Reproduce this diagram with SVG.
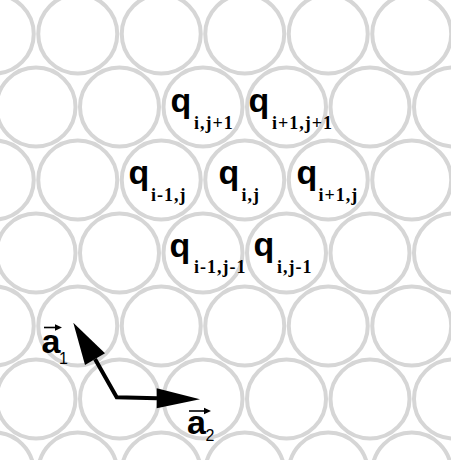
<svg xmlns="http://www.w3.org/2000/svg" width="451" height="460" viewBox="0 0 451 460">
<defs>
<style>
.c{fill:none;stroke:#d6d6d6;stroke-width:4}
.q{font-family:"Liberation Sans",Arial,sans-serif;font-weight:bold;font-size:34px;fill:#000}
.s{font-family:"Liberation Serif","Times New Roman",serif;font-weight:bold;font-size:18px;letter-spacing:1px;fill:#000}
.a{font-family:"Liberation Sans",Arial,sans-serif;font-weight:bold;font-size:34px;fill:#000}
.n{font-family:"Liberation Sans",Arial,sans-serif;font-size:16px;fill:#000}
.ln{stroke:#000;stroke-width:4;fill:none}
.sm{stroke:#000;stroke-width:1.6;fill:none}
</style>
<circle id="cc" class="c" r="39.5"/>
</defs>
<rect width="451" height="460" fill="#fff"/>
<g id="lattice">
<g id="row0"><use href="#cc" x="-5.75" y="34"/><use href="#cc" x="77.75" y="34"/><use href="#cc" x="161.25" y="34"/><use href="#cc" x="244.75" y="34"/><use href="#cc" x="328.25" y="34"/><use href="#cc" x="411.75" y="34"/></g>
<g id="row1"><use href="#cc" x="36" y="107"/><use href="#cc" x="119.5" y="107"/><use href="#cc" x="203" y="107"/><use href="#cc" x="286.5" y="107"/><use href="#cc" x="370" y="107"/><use href="#cc" x="453.5" y="107"/></g>
<g id="row2"><use href="#cc" x="-5.75" y="180"/><use href="#cc" x="77.75" y="180"/><use href="#cc" x="161.25" y="180"/><use href="#cc" x="244.75" y="180"/><use href="#cc" x="328.25" y="180"/><use href="#cc" x="411.75" y="180"/></g>
<g id="row3"><use href="#cc" x="36" y="253"/><use href="#cc" x="119.5" y="253"/><use href="#cc" x="203" y="253"/><use href="#cc" x="286.5" y="253"/><use href="#cc" x="370" y="253"/><use href="#cc" x="453.5" y="253"/></g>
<g id="row4"><use href="#cc" x="-5.75" y="326"/><use href="#cc" x="77.75" y="326"/><use href="#cc" x="161.25" y="326"/><use href="#cc" x="244.75" y="326"/><use href="#cc" x="328.25" y="326"/><use href="#cc" x="411.75" y="326"/></g>
<g id="row5"><use href="#cc" x="36" y="399"/><use href="#cc" x="119.5" y="399"/><use href="#cc" x="203" y="399"/><use href="#cc" x="286.5" y="399"/><use href="#cc" x="370" y="399"/><use href="#cc" x="453.5" y="399"/></g>
<g id="row6"><use href="#cc" x="-5.75" y="472"/><use href="#cc" x="77.75" y="472"/><use href="#cc" x="161.25" y="472"/><use href="#cc" x="244.75" y="472"/><use href="#cc" x="328.25" y="472"/><use href="#cc" x="411.75" y="472"/></g>
</g>
<g id="q_i_jp1"><text class="q" x="170.5" y="112">q</text><text class="s" x="194" y="129">i,j+1</text></g>
<g id="q_ip1_jp1"><text class="q" x="248.5" y="112">q</text><text class="s" x="272" y="129">i+1,j+1</text></g>
<g id="q_im1_j"><text class="q" x="128.5" y="184">q</text><text class="s" x="151" y="201">i-1,j</text></g>
<g id="q_i_j"><text class="q" x="218.5" y="184">q</text><text class="s" x="241.5" y="201">i,j</text></g>
<g id="q_ip1_j"><text class="q" x="296.5" y="184">q</text><text class="s" x="318.5" y="201">i+1,j</text></g>
<g id="q_im1_jm1"><text class="q" x="169.5" y="256.5">q</text><text class="s" x="194" y="273">i-1,j-1</text></g>
<g id="q_i_jm1"><text class="q" x="253.5" y="256">q</text><text class="s" x="277" y="272.5">i,j-1</text></g>
<g id="connectors">
<polyline class="ln" points="95,359 116.7,397.3 157,398.2"/>
<polygon points="73.3,322.7 85,365 105,353.3" fill="#000"/>
<polygon points="200,399.3 156.7,388.3 156.7,408.3" fill="#000"/>
</g>
<g id="a1"><text class="a" x="41.5" y="352.5">a</text><text class="n" x="59" y="364">1</text><line class="sm" x1="44" y1="327.5" x2="58" y2="327.5"/><polygon points="62,327.5 55,324.3 55,330.7" fill="#000"/></g>
<g id="a2"><text class="a" x="187" y="434">a</text><text class="n" x="205.5" y="441">2</text><line class="sm" x1="189" y1="411" x2="206" y2="411"/><polygon points="211,411 204,407.8 204,414.2" fill="#000"/></g>
</svg>
